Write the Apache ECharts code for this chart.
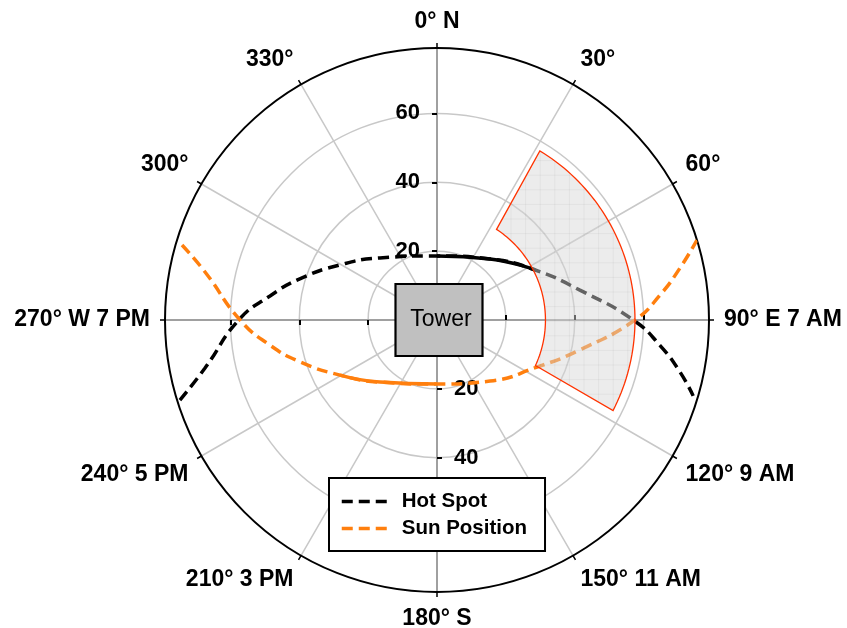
<!DOCTYPE html>
<html>
<head>
<meta charset="utf-8">
<script src="https://cdn.jsdelivr.net/npm/echarts@6/dist/echarts.min.js"></script>
<style>
  html, body { margin: 0; padding: 0; background: #fff; }
  #polarGraph { width: 847px; height: 628px; }
</style>
</head>
<body>
<div id="polarGraph"></div>
<script>
var dom = document.getElementById("polarGraph");
var myChart = echarts.init(dom);

// azimuth tick labels, every 30 degrees clockwise from north
var angleTicks = [0, 30, 60, 90, 120, 150, 180, 210, 240, 270, 300, 330];
var angleNames = ['0° N', '30°', '60°', '90° E 7 AM', '120° 9 AM', '150° 11 AM',
  '180° S', '210° 3 PM', '240° 5 PM', '270° W 7 PM', '300°', '330°'];
var radiusTicks = [20, 40, 60];

// [radius, azimuth]
var sunPosition = [
  [77.2, 286.4], [68.8, 281.7], [57.2, 270.0], [49.1, 261.5], [41.6, 253.0],
  [32.4, 240.4], [24.5, 222.6], [18.6, 180.0], [23.5, 139.0], [32.1, 115.2],
  [42.4, 101.8], [57.5, 90.0], [65.2, 83.6], [72.2, 77.9], [79.0, 72.9]
];
var hotSpot = [
  [78.2, 252.7], [68.8, 258.3], [57.6, 270.0], [49.0, 278.2], [41.6, 286.7],
  [32.4, 299.6], [24.5, 317.4], [18.6, 0.0], [23.5, 41.0], [32.0, 63.0],
  [42.4, 78.2], [57.0, 90.0], [65.3, 96.6], [72.2, 102.1], [77.6, 106.5]
];
// stretches where the dashed paths are drawn twice and look solid
var sunDoubled = sunPosition.slice(5, 8);
var hotDoubled = hotSpot.slice(7, 10);

// field region: inner / outer radius and azimuth span of each arc
var regionRadius = [31.5, 57.5];
var regionInnerAz = [33.3, 114.8];
var regionOuterAz = [31.3, 117.2];

var rMax = 79;
var font = 'Liberation Sans, Arial, sans-serif';
var ctr = [437, 320];

function crossAxis(start, showLabel, tickInside) {
  return {
    polar: { center: ctr, radius: 272 },
    angleAxis: { type: 'value', min: 0, max: 360, startAngle: start, show: false },
    radiusAxis: {
      type: 'value', min: 0, max: rMax, interval: 20,
      axisLine: { show: true, lineStyle: { color: '#a0a0a0', width: 2 } },
      axisTick: { show: true, customValues: radiusTicks, length: 5, inside: tickInside,
        lineStyle: { color: '#000', width: 2 } },
      axisLabel: { show: showLabel, customValues: radiusTicks, margin: 17,
        fontSize: 22, fontWeight: 'bold', fontFamily: font, color: '#000' },
      splitLine: { show: false }
    }
  };
}

var extra = [crossAxis(-90, true, true), crossAxis(0, false, true), crossAxis(180, false, false)];

function regionShape(api) {
  var r0 = api.value(0), r1 = api.value(1);
  var pts = [], a, k;
  var n = 60;
  for (k = 0; k <= n; k++) {
    a = api.value(2) + (api.value(3) - api.value(2)) * k / n;
    pts.push(api.coord([r0, a]));
  }
  for (k = n; k >= 0; k--) {
    a = api.value(4) + (api.value(5) - api.value(4)) * k / n;
    pts.push(api.coord([r1, a]));
  }
  return pts;
}

function pathLine(name, data, color, dashed) {
  return {
    name: name, type: 'line', coordinateSystem: 'polar', polarIndex: 0,
    data: data, smooth: true, symbol: 'none',
    lineStyle: { color: color, width: 3.5, type: dashed ? [11, 6] : 'solid' },
    itemStyle: { color: color }, z: 3
  };
}

option = {
  animation: false,
  backgroundColor: '#fff',
  polar: [{ center: ctr, radius: 272 }].concat(extra.map(function (e) { return e.polar; })),
  angleAxis: [{
    type: 'value', min: 0, max: 360, interval: 30, startAngle: 90, clockwise: true,
    axisLine: { lineStyle: { color: '#000', width: 2 } },
    axisTick: { length: 5, lineStyle: { color: '#000', width: 1.5 } },
    axisLabel: {
      margin: 15, fontSize: 23, fontWeight: 'bold', fontFamily: font, color: '#000',
      formatter: function (v) {
        var i = angleTicks.indexOf(v);
        return i < 0 ? '' : angleNames[i];
      }
    },
    splitLine: { lineStyle: { color: '#c8c8c8', width: 1.5 } }
  }].concat(extra.map(function (e, i) {
    var a = e.angleAxis; a.polarIndex = i + 1; return a;
  })),
  radiusAxis: [{
    type: 'value', min: 0, max: rMax, interval: 20, polarIndex: 0,
    axisLine: { show: true, lineStyle: { color: '#a0a0a0', width: 2 } },
    axisTick: { show: true, customValues: radiusTicks, length: 5,
      lineStyle: { color: '#000', width: 2 } },
    axisLabel: { customValues: radiusTicks, margin: 17, fontSize: 22, fontWeight: 'bold',
      fontFamily: font, color: '#000' },
    splitLine: { show: true, lineStyle: {
      color: ['#c8c8c8', '#c8c8c8', '#c8c8c8', '#c8c8c8', 'rgba(0,0,0,0)'], width: 1.5 } }
  }].concat(extra.map(function (e, i) {
    var r = e.radiusAxis; r.polarIndex = i + 1; return r;
  })),
  legend: {
    data: ['Hot Spot', 'Sun Position'],
    orient: 'vertical',
    left: 329, top: 478,
    padding: [13, 18, 12, 11],
    itemWidth: 45, itemHeight: 14, itemGap: 6,
    itemStyle: { opacity: 0 },
    lineStyle: { width: 3.5 },
    backgroundColor: '#fff',
    borderColor: '#000', borderWidth: 2, borderRadius: 0,
    textStyle: { fontSize: 20.5, fontWeight: 'bold', fontFamily: font, color: '#000',
      padding: [0, 0, 0, 10] },
    z: 10
  },
  series: [
    pathLine('Hot Spot', hotSpot, '#000', true),
    pathLine('Sun Position', sunPosition, '#ff7f0e', true),
    pathLine('hot doubled', hotDoubled, '#000', false),
    pathLine('sun doubled', sunDoubled, '#ff7f0e', false),
    {
      name: 'Field', type: 'custom', coordinateSystem: 'polar', polarIndex: 0,
      data: [[regionRadius[0], regionRadius[1], regionInnerAz[0], regionInnerAz[1],
        regionOuterAz[0], regionOuterAz[1]]],
      renderItem: function (params, api) {
        var pts = regionShape(api);
        var xs = pts.map(function (p) { return p[0]; });
        var ys = pts.map(function (p) { return p[1]; });
        var x0 = Math.min.apply(null, xs), x1 = Math.max.apply(null, xs);
        var y0 = Math.min.apply(null, ys), y1 = Math.max.apply(null, ys);
        var hatch = [], step = 14.6, v;
        for (v = Math.floor(x0 / step) * step; v <= x1; v += step) {
          hatch.push({ type: 'line', shape: { x1: v, y1: y0, x2: v, y2: y1 },
            style: { stroke: 'rgba(0,0,0,0.045)', lineWidth: 1 } });
        }
        for (v = Math.floor(y0 / step) * step; v <= y1; v += step) {
          hatch.push({ type: 'line', shape: { x1: x0, y1: v, x2: x1, y2: v },
            style: { stroke: 'rgba(0,0,0,0.045)', lineWidth: 1 } });
        }
        return {
          type: 'group',
          children: [{
            type: 'polygon', shape: { points: pts },
            style: { fill: 'rgba(215,215,215,0.47)', stroke: null }
          }, {
            type: 'group', children: hatch,
            clipPath: { type: 'polygon', shape: { points: pts } }
          }, {
            type: 'polygon', shape: { points: pts },
            style: { fill: null, stroke: '#ff3300', lineWidth: 1.3 }
          }]
        };
      },
      z: 4
    }, {
      name: 'Tower', type: 'scatter', coordinateSystem: 'polar', polarIndex: 0,
      data: [[0, 0]],
      symbol: 'rect', symbolSize: [87, 72], symbolOffset: [2, 0],
      itemStyle: { color: '#c0c0c0', borderColor: '#000', borderWidth: 2, opacity: 1 },
      label: { show: true, position: 'inside', formatter: 'Tower', fontSize: 23,
        fontFamily: font, color: '#000', offset: [2, 0] },
      z: 5
    }
  ]
};

if (option && typeof option === "object") {
  myChart.setOption(option, true);
}
</script>
</body>
</html>
